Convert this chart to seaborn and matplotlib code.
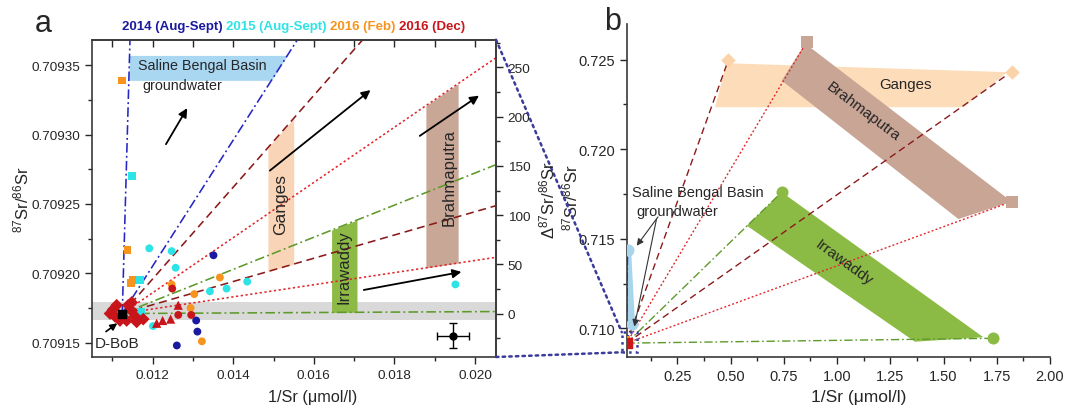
import numpy as np
import pandas as pd
import matplotlib
matplotlib.use("Agg")
import matplotlib.pyplot as plt
import matplotlib.text as mtext
import seaborn as sns
from matplotlib.patches import Polygon, Rectangle, ConnectionPatch
from matplotlib.ticker import MultipleLocator, FormatStrFormatter

# ---------------- data ----------------
dbob_x = 0.011246
dbob_y = 0.709171

x14_circ = [0.01351, 0.01308, 0.01311, 0.01260]
y14_circ = [0.709213, 0.709166, 0.709158, 0.709148]

x15_sq = [0.011494, 0.011693, 0.011718]
y15_sq = [0.709270, 0.709195, 0.709172]
x15_circ = [0.011916, 0.012471, 0.012570, 0.013421, 0.013835, 0.014346, 0.012008, 0.019513]
y15_circ = [0.709218, 0.709216, 0.709204, 0.709187, 0.709189, 0.709194, 0.709162, 0.709192]

x16f_sq = [0.011239, 0.011380, 0.011462, 0.011504]
y16f_sq = [0.709339, 0.709217, 0.709193, 0.709195]
x16f_circ = [0.012471, 0.013032, 0.013669, 0.012942, 0.013222]
y16f_circ = [0.709192, 0.709185, 0.709197, 0.709175, 0.709151]

x16d_circ = [0.012486, 0.012635, 0.012957]
y16d_circ = [0.709189, 0.709170, 0.709170]
x16d_tri = [0.012635, 0.012446, 0.012248, 0.012099]
y16d_tri = [0.709177, 0.709167, 0.709166, 0.709164]
x16d_dia = [0.011023, 0.010941, 0.011107, 0.011395, 0.011479, 0.011355, 0.011189,
            0.011561, 0.011603, 0.011767, 0.011065, 0.011479]
y16d_dia = [0.709174, 0.709171, 0.709177, 0.709177, 0.709173, 0.709166, 0.709166,
            0.709169, 0.709165, 0.709167, 0.709169, 0.709179]

# end-members (panel b)
sbb_x = [0.0163, 0.0348]
sbb_y = [0.71437, 0.71024]
ganges_x = [0.490, 1.820]
ganges_y = [0.72500, 0.72433]
brahma_x = [0.858, 1.820]
brahma_y = [0.72600, 0.71707]
irra_x = [0.740, 1.731]
irra_y = [0.71760, 0.70944]

# source regions (panel b)
ganges_poly_x = [0.427, 0.480, 1.800, 1.593]
ganges_poly_y = [0.72234, 0.72480, 0.72430, 0.72234]
brahma_poly_x = [0.740, 0.850, 1.820, 1.570]
brahma_poly_y = [0.72383, 0.72590, 0.71707, 0.71610]
irra_poly_x = [0.576, 0.740, 1.687, 1.366]
irra_poly_y = [0.71573, 0.71760, 0.70950, 0.70925]

# bands in panel a
sbb_band_y = [0.709339, 0.709357]
ganges_band_x = [0.01486, 0.01550]
irra_band_x = [0.01644, 0.01707]
brahma_band_x = [0.01878, 0.01958]
gray_band_y = [0.709166, 0.709179]

# analytical error
err_x, err_y = 0.019453, 0.709155
err_dx, err_dy = 0.0004, 0.000009

# arrows in panel a (start, end)
arrows_a = [((0.012330, 0.709293), (0.012858, 0.709319)),
            ((0.014909, 0.709274), (0.017406, 0.709332)),
            ((0.018628, 0.709299), (0.020098, 0.709328)),
            ((0.017239, 0.709188), (0.019662, 0.709201))]

campaign_labels = ["2014 (Aug-Sept)", "2015 (Aug-Sept)", "2016 (Feb)", "2016 (Dec)"]
campaign_keys = ["2014", "2015", "2016F", "2016D"]
campaign_colors = ["#1A1AA0", "#2EE3E6", "#F7941D", "#C8151B"]

# ---------------- build frames ----------------
rows = []
def add(xs, ys, camp, shape):
    for a, b in zip(xs, ys):
        rows.append(dict(x=a, y=b, campaign=camp, shape=shape))
add(x14_circ, y14_circ, "2014", "circle")
add(x15_sq, y15_sq, "2015", "square")
add(x15_circ, y15_circ, "2015", "circle")
add(x16f_sq, y16f_sq, "2016F", "square")
add(x16f_circ, y16f_circ, "2016F", "circle")
add(x16d_circ, y16d_circ, "2016D", "circle")
add(x16d_tri, y16d_tri, "2016D", "triangle")
add(x16d_dia, y16d_dia, "2016D", "diamond")
df = pd.DataFrame(rows)

palette = dict(zip(campaign_keys, campaign_colors))
markers = {"circle": "o", "square": "s", "triangle": "^", "diamond": "D"}
sizes = {"circle": 32, "square": 30, "triangle": 44, "diamond": 42}

# ---------------- style ----------------
sns.set_style("ticks")
plt.rcParams["font.family"] = ["Liberation Sans", "DejaVu Sans"]
plt.rcParams["mathtext.default"] = "regular"
plt.rcParams["axes.edgecolor"] = "#3a3a3a"
plt.rcParams["axes.linewidth"] = 1.2

fig = plt.figure(figsize=(10.67, 4.10), dpi=100)
axa = fig.add_axes([0.08622, 0.12683, 0.37863, 0.77390])
axb = fig.add_axes([0.58735, 0.12610, 0.39672, 0.81293])

c_sbb = "#2626C4"
c_gan = "#8B1A1A"
c_bra = "#E2262A"
c_irr = "#5E9A2A"
ls_sbb = (0, (6, 2, 1.2, 2))
ls_gan = (0, (5, 3))
ls_bra = (0, (1.4, 1.6))
ls_irr = (0, (6, 2, 1.2, 2))

groups = [(sbb_x, sbb_y, c_sbb, ls_sbb),
          (ganges_x, ganges_y, c_gan, ls_gan),
          (brahma_x, brahma_y, c_bra, ls_bra),
          (irra_x, irra_y, c_irr, ls_irr)]

def line_y(ex, ey, x):
    return dbob_y + (ey - dbob_y) / (ex - dbob_x) * (np.asarray(x) - dbob_x)

def line_x(ex, ey, y):
    return dbob_x + (ex - dbob_x) / (ey - dbob_y) * (np.asarray(y) - dbob_y)

# ================= panel a =================
axa.set_xlim(0.010495, 0.02052)
axa.set_ylim(0.7091397, 0.7093683)

axa.axhspan(gray_band_y[0], gray_band_y[1], color="#D9D9D9", zorder=0, lw=0)

ys = np.linspace(sbb_band_y[0], sbb_band_y[1], 20)
axa.fill_betweenx(ys, line_x(sbb_x[0], sbb_y[0], ys), line_x(sbb_x[1], sbb_y[1], ys),
                  color="#A9D7F2", lw=0, zorder=0.5)
for band, ex, ey, col in [(ganges_band_x, ganges_x, ganges_y, "#F9D4B6"),
                          (irra_band_x, irra_x, irra_y, "#8DBA45"),
                          (brahma_band_x, brahma_x, brahma_y, "#C9A797")]:
    xs = np.linspace(band[0], band[1], 20)
    axa.fill_between(xs, line_y(ex[1], ey[1], xs), line_y(ex[0], ey[0], xs),
                     color=col, lw=0, zorder=0.5)

for ex, ey, col, ls in groups:
    for i in range(2):
        axa.plot([dbob_x, ex[i]], [dbob_y, ey[i]], color=col, ls=ls, lw=1.15, zorder=1)

sns.scatterplot(data=df, x="x", y="y", hue="campaign", style="shape", size="shape",
                palette=palette, markers=markers, sizes=sizes, linewidth=0,
                legend=False, ax=axa, zorder=3)
axa.scatter([dbob_x], [dbob_y], marker="s", s=36, color="black", zorder=5)

axa.errorbar([err_x], [err_y], xerr=[err_dx], yerr=[err_dy], fmt="o", color="black",
             ms=5, capsize=3, lw=1, zorder=4)

for (s, e) in arrows_a:
    axa.annotate("", xy=e, xytext=s,
                 arrowprops=dict(arrowstyle="-|>", color="black", lw=1.3,
                                 mutation_scale=13, shrinkA=0, shrinkB=0), zorder=4)
axa.annotate("", xy=(0.011122, 0.709164), xytext=(0.010842, 0.709158),
             arrowprops=dict(arrowstyle="-|>", color="black", lw=1.2,
                             mutation_scale=10, shrinkA=0, shrinkB=0), zorder=4)

axa.text(0.010552, 0.70915, "D-BoB", fontsize=11, ha="left", va="center", zorder=6)
axa.text(0.01163, 0.70935, "Saline Bengal Basin", fontsize=10.3, ha="left", va="center")
axa.text(0.01175, 0.709336, "groundwater", fontsize=10.3, ha="left", va="center")
axa.text(0.01517, 0.70925, "Ganges", fontsize=12.5, rotation=90, ha="center", va="center")
axa.text(0.01676, 0.709205, "Irrawaddy", fontsize=12, rotation=90, ha="center", va="center")
axa.text(0.019355, 0.70927, "Brahmaputra", fontsize=12, rotation=90, ha="center", va="center")

axa.xaxis.set_major_locator(MultipleLocator(0.002))
axa.xaxis.set_minor_locator(MultipleLocator(0.001))
axa.yaxis.set_major_locator(MultipleLocator(0.00005))
axa.yaxis.set_minor_locator(MultipleLocator(0.000025))
axa.yaxis.set_major_formatter(FormatStrFormatter("%.5f"))
axa.xaxis.set_major_formatter(FormatStrFormatter("%.3f"))
axa.tick_params(which="both", direction="out", labelsize=9.7, right=False, top=False)
axa.tick_params(which="major", length=5, width=1)
axa.tick_params(which="minor", length=3, width=1)

secx = axa.secondary_xaxis("top")
secx.xaxis.set_major_locator(MultipleLocator(0.001))
secx.tick_params(direction="in", labeltop=False, length=5, width=1)

def fwd(r):
    return (np.asarray(r) / dbob_y - 1.0) * 1e6
def inv(d):
    return dbob_y * (1.0 + np.asarray(d) / 1e6)
secy = axa.secondary_yaxis("right", functions=(fwd, inv))
secy.yaxis.set_major_locator(MultipleLocator(50))
secy.yaxis.set_minor_locator(MultipleLocator(25))
secy.tick_params(which="both", direction="out", labelsize=9.7, width=1)
secy.tick_params(which="major", length=5)
secy.tick_params(which="minor", length=3)
fig.text(547 / 1067, 1 - 200 / 410, r"$\Delta^{87}$Sr/$^{86}$Sr", fontsize=12,
         rotation=90, ha="center", va="center")

axa.set_xlabel("1/Sr (μmol/l)", fontsize=11.7)
axa.xaxis.set_label_coords(0.546, -0.101)
axa.set_ylabel(r"$^{87}$Sr/$^{86}$Sr", fontsize=12)
axa.yaxis.set_label_coords(-0.151, 0.498)

# campaign header, laid out sequentially
prev = fig.text(122 / 1067, 1 - 27 / 410, campaign_labels[0] + " ", color=campaign_colors[0],
                fontsize=9.5, fontweight="bold", ha="left", va="center")
for lab, col in zip(campaign_labels[1:], campaign_colors[1:]):
    prev = fig.add_artist(mtext.Annotation(
        lab + " ", xy=(1, 0.5), xycoords=prev, xytext=(0, 0), textcoords="offset points",
        color=col, fontsize=9.5, fontweight="bold", ha="left", va="center"))

fig.text(43 / 1067, 1 - 24 / 410, "a", fontsize=22, ha="center", va="center")
fig.text(613 / 1067, 1 - 22 / 410, "b", fontsize=22, ha="center", va="center")

# ================= panel b =================
axb.set_xlim(0.012, 2.0)
axb.set_ylim(0.70838, 0.72699)
sns.despine(ax=axb)

for px, py, col in [(ganges_poly_x, ganges_poly_y, "#FDDDB9"),
                    (brahma_poly_x, brahma_poly_y, "#C8A595"),
                    (irra_poly_x, irra_poly_y, "#8CBB45")]:
    axb.add_patch(Polygon(np.column_stack([px, py]), closed=True, facecolor=col,
                          edgecolor="none", zorder=0.5))
axb.plot(sbb_x, sbb_y, color="#A8D5EC", lw=5, solid_capstyle="round", zorder=0.6)

for ex, ey, col, ls in groups:
    for i in range(2):
        axb.plot([dbob_x, ex[i]], [dbob_y, ey[i]], color=col, ls=ls, lw=1.0, zorder=1)

axb.scatter(ganges_x, ganges_y, marker="D", s=55, color="#FAD3A8", zorder=3, lw=0)
axb.scatter(brahma_x, brahma_y, marker="s", s=80, color="#C8A595", zorder=3, lw=0)
axb.scatter(irra_x, irra_y, marker="o", s=75, color="#8CBB45", zorder=3, lw=0)
axb.scatter(sbb_x, sbb_y, marker="o", s=75, color="#A8D5EC", zorder=3, lw=0)

sns.scatterplot(data=df, x="x", y="y", hue="campaign", style="shape",
                palette=palette, markers=markers, s=30, linewidth=0,
                legend=False, ax=axb, zorder=4)
axb.scatter([dbob_x], [dbob_y], marker="s", s=45, color="#D01515", zorder=5)

axb.add_patch(Rectangle((-0.011, 0.70866), 0.07, 0.00112, fill=False, ls=":",
                        ec="#3B3B9B", lw=1.8, clip_on=False, zorder=6))
con1 = ConnectionPatch(xyA=(1, 1), coordsA=axa.transAxes, xyB=(-0.011, 0.70978),
                       coordsB=axb.transData, ls=":", color="#3B3B9B", lw=1.8)
con2 = ConnectionPatch(xyA=(1, 0), coordsA=axa.transAxes, xyB=(-0.011, 0.70866),
                       coordsB=axb.transData, ls=":", color="#3B3B9B", lw=1.8)
fig.add_artist(con1)
fig.add_artist(con2)

axb.text(1.32, 0.72365, "Ganges", fontsize=10.8, ha="center", va="center")
axb.text(1.124, 0.72215, "Brahmaputra", fontsize=11, rotation=-37, ha="center",
         va="center", rotation_mode="anchor")
axb.text(1.03, 0.71369, "Irrawaddy", fontsize=11, rotation=-36, ha="center",
         va="center", rotation_mode="anchor")
axb.text(0.036, 0.71760, "Saline Bengal Basin", fontsize=10.5, ha="left", va="center")
axb.text(0.059, 0.71657, "groundwater", fontsize=10.5, ha="left", va="center")
axb.annotate("", xy=(0.059, 0.71461), xytext=(0.159, 0.71622),
             arrowprops=dict(arrowstyle="-|>", color="#333333", lw=0.8,
                             mutation_scale=10, shrinkA=0, shrinkB=0))
axb.annotate("", xy=(0.048, 0.7101), xytext=(0.152, 0.7161),
             arrowprops=dict(arrowstyle="-|>", color="#333333", lw=0.8,
                             mutation_scale=10, shrinkA=0, shrinkB=0))

axb.xaxis.set_major_locator(MultipleLocator(0.25))
axb.xaxis.set_minor_locator(MultipleLocator(0.125))
axb.yaxis.set_major_locator(MultipleLocator(0.005))
axb.yaxis.set_minor_locator(MultipleLocator(0.0025))
axb.xaxis.set_major_formatter(FormatStrFormatter("%.2f"))
axb.yaxis.set_major_formatter(FormatStrFormatter("%.3f"))
axb.tick_params(which="both", direction="out", labelsize=10.5, width=1)
axb.tick_params(which="major", length=5)
axb.tick_params(which="minor", length=3)
axb.set_xlabel("1/Sr (μmol/l)", fontsize=12.5)
axb.xaxis.set_label_coords(0.547, -0.095)
axb.set_ylabel(r"$^{87}$Sr/$^{86}$Sr", fontsize=12)
axb.yaxis.set_label_coords(-0.110, 0.481)

fig.savefig("out.png", dpi=100)
